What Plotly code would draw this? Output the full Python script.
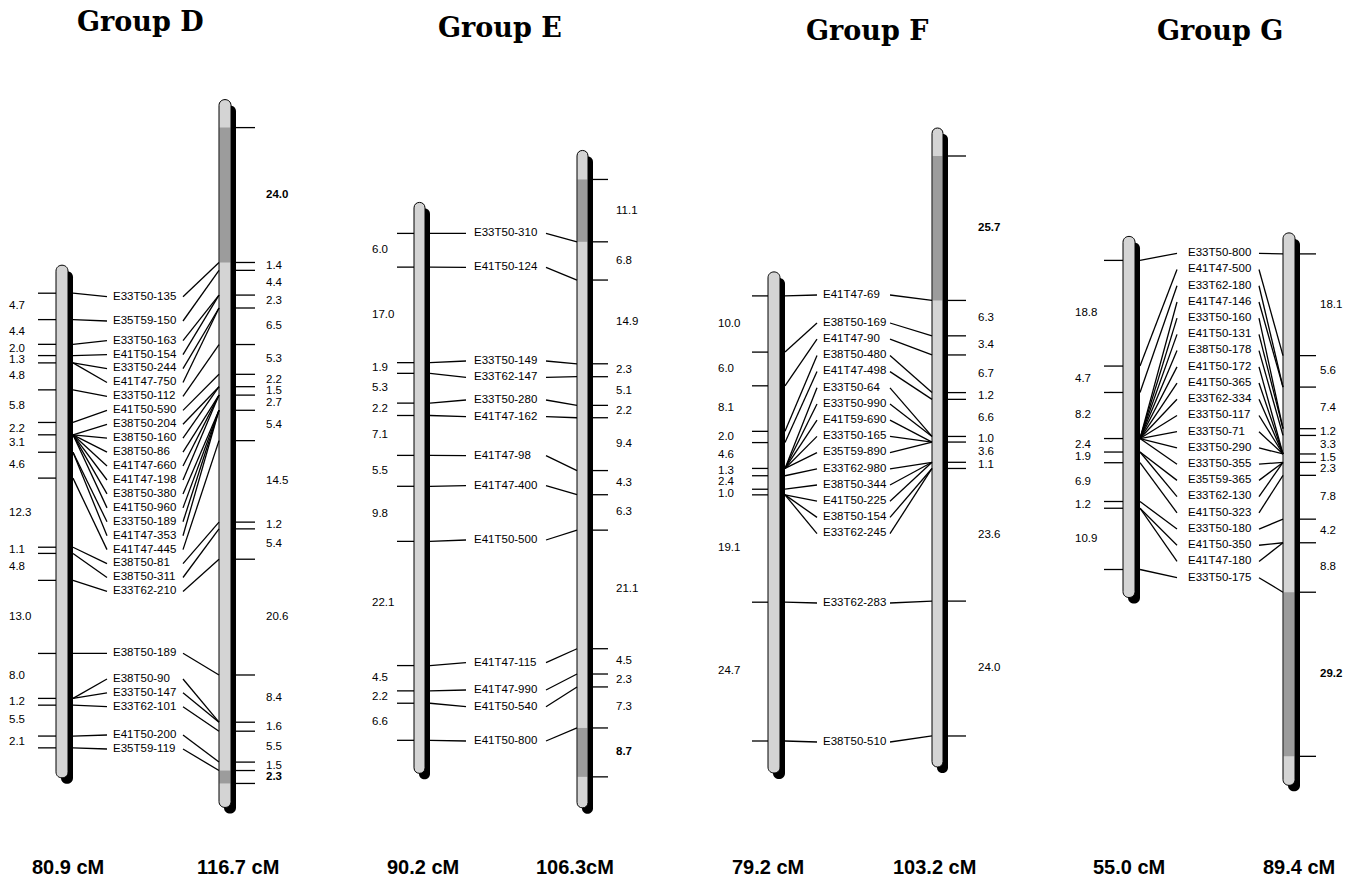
import plotly.graph_objects as go

# ===================== DATA =====================
# Interval lengths (cM) between successive markers on each linkage group
d_left_intervals = [4.7, 4.4, 2.0, 1.3, 4.8, 5.8, 2.2, 3.1, 4.6, 12.3, 1.1, 4.8, 13.0, 8.0, 1.2, 5.5, 2.1]
d_right_intervals = [24.0, 1.4, 4.4, 2.3, 6.5, 5.3, 2.2, 1.5, 2.7, 5.4, 14.5, 1.2, 5.4, 20.6, 8.4, 1.6, 5.5, 1.5, 2.3]
d_markers = ["E33T50-135", "E35T59-150", "E33T50-163", "E41T50-154", "E33T50-244", "E41T47-750",
             "E33T50-112", "E41T50-590", "E38T50-204", "E38T50-160", "E38T50-86", "E41T47-660",
             "E41T47-198", "E38T50-380", "E41T50-960", "E33T50-189", "E41T47-353", "E41T47-445",
             "E38T50-81", "E38T50-311", "E33T62-210", "E38T50-189", "E38T50-90", "E33T50-147",
             "E33T62-101", "E41T50-200", "E35T59-119"]
d_left_link = [0, 1, 2, 3, 4, 4, 5, 6, 7, 7, 7, 7, 7, 7, 7, 8, 8, 9, 10, 11, 12, 13, 14, 14, 15, 16, 17]
d_right_link = [1, 2, 3, 3, 4, 4, 5, 6, 7, 7, 8, 8, 8, 9, 9, 9, 9, 10, 11, 12, 13, 14, 15, 15, 16, 17, 18]
d_left_dark, d_right_dark = [], [0, 18]
d_left_bold, d_right_bold = [], [0, 18]
d_totals = ["80.9 cM", "116.7 cM"]

e_left_intervals = [6.0, 17.0, 1.9, 5.3, 2.2, 7.1, 5.5, 9.8, 22.1, 4.5, 2.2, 6.6]
e_right_intervals = [11.1, 6.8, 14.9, 2.3, 5.1, 2.2, 9.4, 4.3, 6.3, 21.1, 4.5, 2.3, 7.3, 8.7]
e_markers = ["E33T50-310", "E41T50-124", "E33T50-149", "E33T62-147", "E33T50-280", "E41T47-162",
             "E41T47-98", "E41T47-400", "E41T50-500", "E41T47-115", "E41T47-990", "E41T50-540",
             "E41T50-800"]
e_left_link = [0, 1, 2, 3, 4, 5, 6, 7, 8, 9, 10, 11, 12]
e_right_link = [1, 2, 3, 4, 5, 6, 7, 8, 9, 10, 11, 12, 13]
e_left_dark, e_right_dark = [], [0, 13]
e_left_bold, e_right_bold = [], [13]
e_totals = ["90.2 cM", "106.3cM"]

f_left_intervals = [10.0, 6.0, 8.1, 2.0, 4.6, 1.3, 2.4, 1.0, 19.1, 24.7]
f_right_intervals = [25.7, 6.3, 3.4, 6.7, 1.2, 6.6, 1.0, 3.6, 1.1, 23.6, 24.0]
f_markers = ["E41T47-69", "E38T50-169", "E41T47-90", "E38T50-480", "E41T47-498", "E33T50-64",
             "E33T50-990", "E41T59-690", "E33T50-165", "E35T59-890", "E33T62-980", "E38T50-344",
             "E41T50-225", "E38T50-154", "E33T62-245", "E33T62-283", "E38T50-510"]
f_left_link = [0, 1, 2, 3, 4, 5, 5, 5, 5, 5, 6, 7, 8, 8, 8, 9, 10]
f_right_link = [1, 2, 3, 4, 5, 6, 6, 7, 7, 7, 8, 8, 8, 9, 9, 10, 11]
f_left_dark, f_right_dark = [], [0]
f_left_bold, f_right_bold = [], [0]
f_totals = ["79.2 cM", "103.2 cM"]

g_left_intervals = [18.8, 4.7, 8.2, 2.4, 1.9, 6.9, 1.2, 10.9]
g_right_intervals = [18.1, 5.6, 7.4, 1.2, 3.3, 1.5, 2.3, 7.8, 4.2, 8.8, 29.2]
g_markers = ["E33T50-800", "E41T47-500", "E33T62-180", "E41T47-146", "E33T50-160", "E41T50-131",
             "E38T50-178", "E41T50-172", "E41T50-365", "E33T62-334", "E33T50-117", "E33T50-71",
             "E33T50-290", "E33T50-355", "E35T59-365", "E33T62-130", "E41T50-323", "E33T50-180",
             "E41T50-350", "E41T47-180", "E33T50-175"]
g_left_link = [0, 1, 2, 3, 3, 3, 3, 3, 3, 3, 3, 3, 3, 3, 4, 4, 5, 6, 7, 7, 8]
g_right_link = [0, 1, 2, 2, 3, 3, 4, 5, 5, 5, 5, 5, 5, 6, 6, 6, 7, 8, 9, 9, 10]
g_left_dark, g_right_dark = [], [10]
g_left_bold, g_right_bold = [], [10]
g_totals = ["55.0 cM", "89.4 cM"]

group_names = ["Group D", "Group E", "Group F", "Group G"]

# ===================== LAYOUT (pixels) =====================
W, H = 1356, 885
S = 5.62                       # pixels per cM
SHADOW_DX, SHADOW_DY = 5, 6
LIGHT = "#d4d4d4"
DARK = "#9c9c9c"
SANS = "Liberation Sans, Arial, sans-serif"
LABEL_FONT = dict(family=SANS, size=11.5, color="black")

LAYOUT = {
    "D": dict(title=(140, 21), totals_x=(68, 238),
              left=dict(x0=56, w=12, top=293.2, pad_top=28, pad_bot=30, tick=18, dist_x=9),
              right=dict(x0=219, w=12, top=127.6, pad_top=28, pad_bot=24, tick=19, dist_x=266),
              conn_l=107, label_x=113, conn_r=183,
              stacks=[(1, 296.7, 0), (1, 321, 0), (19, 340.7, 13.93), (1, 653.3, 0),
                      (3, 679, 13.85), (1, 735, 0), (1, 749, 0)]),
    "E": dict(title=(500, 27), totals_x=(423, 575),
              left=dict(x0=414, w=11, top=233.4, pad_top=31, pad_bot=33, tick=17, dist_x=372),
              right=dict(x0=577, w=11, top=179.45, pad_top=29, pad_bot=31, tick=15, dist_x=616),
              conn_l=466, label_x=474, conn_r=546,
              stacks=[(1, 233.3, 0), (1, 267.3, 0), (2, 361, 16.3), (2, 400, 16.7), (1, 455.7, 0),
                      (1, 485.7, 0), (1, 540, 0), (1, 662.7, 0), (2, 690, 16.7), (1, 741, 0)]),
    "F": dict(title=(867, 30), totals_x=(768, 934),
              left=dict(x0=768, w=12, top=295.9, pad_top=24, pad_bot=32, tick=16, dist_x=718),
              right=dict(x0=932, w=11, top=156, pad_top=28, pad_bot=31, tick=18, dist_x=978),
              conn_l=817, label_x=823, conn_r=890,
              stacks=[(1, 295, 0), (14, 323, 16.2), (1, 603, 0), (1, 742, 0)]),
    "G": dict(title=(1220, 30), totals_x=(1129, 1299),
              left=dict(x0=1123, w=12, top=260.4, pad_top=24, pad_bot=28, tick=19, dist_x=1075),
              right=dict(x0=1283, w=12, top=253.9, pad_top=21, pad_bot=29, tick=16, dist_x=1320),
              conn_l=1177, label_x=1188, conn_r=1259,
              stacks=[(21, 253.3, 16.22)]),
}
TOTALS_Y = 867

GROUPS = [
    ("D", d_left_intervals, d_right_intervals, d_markers, d_left_link, d_right_link,
     (d_left_dark, d_left_bold), (d_right_dark, d_right_bold), d_totals),
    ("E", e_left_intervals, e_right_intervals, e_markers, e_left_link, e_right_link,
     (e_left_dark, e_left_bold), (e_right_dark, e_right_bold), e_totals),
    ("F", f_left_intervals, f_right_intervals, f_markers, f_left_link, f_right_link,
     (f_left_dark, f_left_bold), (f_right_dark, f_right_bold), f_totals),
    ("G", g_left_intervals, g_right_intervals, g_markers, g_left_link, g_right_link,
     (g_left_dark, g_left_bold), (g_right_dark, g_right_bold), g_totals),
]


# ===================== HELPERS =====================
def cumulative(intervals):
    pos = [0.0]
    for v in intervals:
        pos.append(pos[-1] + v)
    return pos


def spread(ideal, gap):
    if not ideal:
        return []
    order = sorted(range(len(ideal)), key=lambda i: ideal[i])
    clusters = [[i] for i in order]

    def pos(cl):
        m = sum(ideal[i] for i in cl) / len(cl)
        n = len(cl)
        return [m + (k - (n - 1) / 2) * gap for k in range(n)]

    changed = True
    while changed:
        changed = False
        new = [clusters[0]]
        for cl in clusters[1:]:
            if pos(new[-1])[-1] + gap > pos(cl)[0] + 1e-9:
                new[-1] = new[-1] + cl
                changed = True
            else:
                new.append(cl)
        clusters = new
    out = [0.0] * len(ideal)
    for cl in clusters:
        for i, p in zip(cl, pos(cl)):
            out[i] = p
    return out


def bar_path(xa, xb, yt, yb):
    rc = (xb - xa) / 2 / S
    k = 4 / 3 * rc
    return (f"M{xa},{yt + rc} C{xa},{yt + rc - k} {xb},{yt + rc - k} {xb},{yt + rc} "
            f"L{xb},{yb - rc} C{xb},{yb - rc + k} {xa},{yb - rc + k} {xa},{yb - rc} Z")


shapes = []
annotations = []
line_x, line_y = [], []
text_traces = []


def add_chrom(cfg, intervals, style, side):
    dark, bold = style
    pos = cumulative(intervals)
    off = cfg["top"] / S
    g = [off + p for p in pos]
    x0, w = cfg["x0"], cfg["w"]
    yt = g[0] - cfg["pad_top"] / S
    yb = g[-1] + cfg["pad_bot"] / S
    dy = SHADOW_DY / S
    shapes.append(dict(type="path", xref="x", yref="y", layer="below",
                       path=bar_path(x0 + SHADOW_DX, x0 + w + SHADOW_DX, yt + dy, yb + dy),
                       fillcolor="black", line=dict(width=0)))
    shapes.append(dict(type="path", xref="x", yref="y", layer="below",
                       path=bar_path(x0, x0 + w, yt, yb), fillcolor=LIGHT, line=dict(width=0)))
    for i in dark:
        shapes.append(dict(type="rect", xref="x", yref="y", layer="below",
                           x0=x0 + 0.5, x1=x0 + w - 0.5, y0=g[i], y1=g[i + 1],
                           fillcolor=DARK, line=dict(width=0)))
    shapes.append(dict(type="path", xref="x", yref="y", layer="below",
                       path=bar_path(x0, x0 + w, yt, yb), fillcolor="rgba(0,0,0,0)",
                       line=dict(color="black", width=1)))
    # marker ticks
    if side == "left":
        ta, tb = x0 - cfg["tick"], x0
    else:
        ta, tb = x0 + w + SHADOW_DX, x0 + w + SHADOW_DX + cfg["tick"]
    for y in g:
        line_x.extend([ta, tb, None])
        line_y.extend([y, y, None])
    # interval distance labels
    mids = [(g[i] + g[i + 1]) / 2 for i in range(len(intervals))]
    ys = spread(mids, 11.5 / S)
    txt = [f"<b>{v:.1f}</b>" if i in bold else f"{v:.1f}" for i, v in enumerate(intervals)]
    text_traces.append(go.Scatter(x=[cfg["dist_x"]] * len(intervals), y=ys, text=txt,
                                  mode="text", textposition="middle right",
                                  textfont=dict(family=SANS, size=11.5, color="black"),
                                  hoverinfo="skip"))
    return g


for (key, li, ri, names, llink, rlink, lstyle, rstyle, totals), gname in zip(GROUPS, group_names):
    cfg = LAYOUT[key]
    gl = add_chrom(cfg["left"], li, lstyle, "left")
    gr = add_chrom(cfg["right"], ri, rstyle, "right")
    lab_y = []
    for n, start, step in cfg["stacks"]:
        lab_y += [(start + k * step) / S for k in range(n)]
    lx0 = cfg["left"]["x0"] + cfg["left"]["w"] + SHADOW_DX
    rx0 = cfg["right"]["x0"]
    for i, name in enumerate(names):
        line_x.extend([lx0, cfg["conn_l"], None])
        line_y.extend([gl[llink[i]], lab_y[i], None])
        line_x.extend([cfg["conn_r"], rx0, None])
        line_y.extend([lab_y[i], gr[rlink[i]], None])
    text_traces.append(go.Scatter(x=[cfg["label_x"]] * len(names), y=lab_y, text=names,
                                  mode="text", textposition="middle right",
                                  textfont=LABEL_FONT, hoverinfo="skip"))
    tx, ty = cfg["title"]
    annotations.append(dict(x=tx, y=ty / S, xref="x", yref="y", text=f"<b>{gname}</b>",
                            showarrow=False, xanchor="center", yanchor="middle", borderpad=0,
                            font=dict(family="DejaVu Serif, serif", size=27, color="black")))
    for xt, t in zip(cfg["totals_x"], totals):
        annotations.append(dict(x=xt, y=TOTALS_Y / S, xref="x", yref="y", text=f"<b>{t}</b>",
                                showarrow=False, xanchor="center", yanchor="middle", borderpad=0,
                                font=dict(family=SANS, size=20, color="black")))

fig = go.Figure()
fig.add_trace(go.Scatter(x=line_x, y=line_y, mode="lines",
                         line=dict(color="black", width=1.3), hoverinfo="skip"))
for t in text_traces:
    fig.add_trace(t)

fig.update_layout(
    width=W, height=H, margin=dict(l=0, r=0, t=0, b=0),
    paper_bgcolor="white", plot_bgcolor="white", showlegend=False,
    shapes=shapes, annotations=annotations, hovermode=False,
    xaxis=dict(range=[0, W], visible=False, fixedrange=True),
    yaxis=dict(range=[H / S, 0], visible=False, fixedrange=True),
)
fig.write_html("out.html", config={"displayModeBar": False, "staticPlot": True},
               post_script="document.body.style.margin='0';document.body.style.overflow='hidden';")
